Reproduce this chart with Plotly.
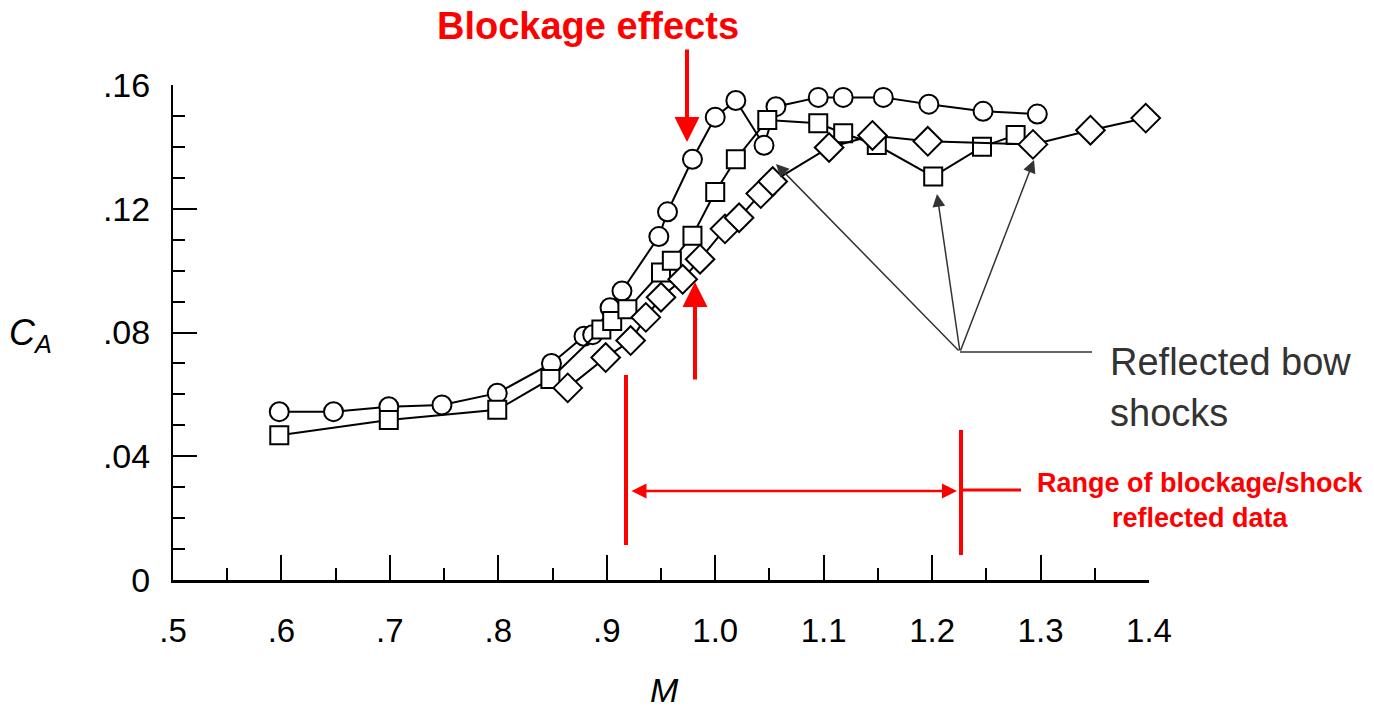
import plotly.graph_objects as go

# ---- data ----
circle_M = [0.598, 0.648, 0.699, 0.748, 0.799, 0.849, 0.879, 0.887, 0.903, 0.914,
            0.948, 0.956, 0.979, 1.000, 1.019, 1.045, 1.056, 1.095, 1.118, 1.155,
            1.197, 1.247, 1.297]
circle_CA = [0.0544, 0.0544, 0.0560, 0.0566, 0.0604, 0.0700, 0.0788, 0.0793, 0.0880, 0.0934,
             0.1110, 0.1190, 0.1360, 0.1496, 0.1550, 0.1405, 0.1530, 0.1560, 0.1560, 0.1560,
             0.1538, 0.1515, 0.1506]

square_M = [0.598, 0.699, 0.799, 0.848, 0.895, 0.905, 0.919, 0.950, 0.960, 0.979,
            1.000, 1.019, 1.048, 1.095, 1.118, 1.149, 1.201, 1.246, 1.277]
square_CA = [0.0468, 0.0517, 0.0550, 0.0650, 0.0810, 0.0837, 0.0875, 0.0994, 0.1032, 0.1113,
             0.1254, 0.1360, 0.1487, 0.1476, 0.1444, 0.1406, 0.1304, 0.1400, 0.1438]

diamond_M = [0.864, 0.899, 0.922, 0.936, 0.950, 0.970, 0.986, 1.009, 1.022, 1.042,
             1.053, 1.105, 1.145, 1.196, 1.293, 1.346, 1.397]
diamond_CA = [0.0621, 0.0719, 0.0774, 0.0849, 0.0914, 0.0972, 0.1037, 0.1135, 0.1171, 0.1249,
              0.1288, 0.1398, 0.1437, 0.1418, 0.1408, 0.1454, 0.1493]

x_tickvals = [0.5, 0.6, 0.7, 0.8, 0.9, 1.0, 1.1, 1.2, 1.3, 1.4]
x_ticktext = [".5", ".6", ".7", ".8", ".9", "1.0", "1.1", "1.2", "1.3", "1.4"]
y_tickvals = [0, 0.04, 0.08, 0.12, 0.16]
y_ticktext = ["0", ".04", ".08", ".12", ".16"]

# ---- layout geometry (page body has an 8px margin) ----
OFF = 8
WIDTH, HEIGHT = 1374 - OFF, 708 - OFF
L, R, T, B = 173, 1149, 85, 580          # target screen pixels of plot area
PW, PH = R - L, B - T


def px(x):
    return (x - L) / PW


def py(y):
    return (B - y) / PH


FONT = "Liberation Sans, Arial, Helvetica, sans-serif"
RED = "#ff0000"

fig = go.Figure()
common = dict(mode="lines+markers", line=dict(color="black", width=2), cliponaxis=False,
              showlegend=False)
fig.add_trace(go.Scatter(x=circle_M, y=circle_CA,
                         marker=dict(symbol="circle", size=19, color="white",
                                     line=dict(color="black", width=2)), **common))
fig.add_trace(go.Scatter(x=square_M, y=square_CA,
                         marker=dict(symbol="square", size=18, color="white",
                                     line=dict(color="black", width=2)), **common))
fig.add_trace(go.Scatter(x=diamond_M, y=diamond_CA,
                         marker=dict(symbol="diamond", size=22, color="white",
                                     line=dict(color="black", width=2)), **common))

fig.update_layout(
    width=WIDTH, height=HEIGHT,
    margin=dict(l=L - OFF, r=WIDTH - (R - OFF), t=T - OFF, b=HEIGHT - (B - OFF)),
    paper_bgcolor="white", plot_bgcolor="white",
    font=dict(family=FONT, color="black"),
    xaxis=dict(range=[0.5, 1.4], tickvals=x_tickvals, ticktext=x_ticktext,
               ticks="inside", ticklen=25, tickwidth=1.5, tickcolor="black",
               showline=True, linecolor="black", linewidth=3, showgrid=False,
               zeroline=False, tickfont=dict(size=33, family=FONT),
               ticklabelstandoff=19,
               minor=dict(dtick=0.05, ticks="inside", ticklen=12, tickwidth=1.5,
                          tickcolor="black", showgrid=False)),
    yaxis=dict(range=[0, 0.16], tickvals=y_tickvals, ticktext=y_ticktext,
               ticks="inside", ticklen=24, tickwidth=2, tickcolor="black",
               showline=True, linecolor="black", linewidth=2, showgrid=False,
               zeroline=False, tickfont=dict(size=34, family=FONT),
               ticklabelstandoff=14,
               minor=dict(dtick=0.01, ticks="inside", ticklen=12, tickwidth=2,
                          tickcolor="black", showgrid=False)),
)

shapes = []
# red range markers
shapes.append(dict(type="line", xref="paper", yref="paper", x0=px(626), x1=px(626),
                   y0=py(375), y1=py(545), line=dict(color=RED, width=4)))
shapes.append(dict(type="line", xref="paper", yref="paper", x0=px(961), x1=px(961),
                   y0=py(430), y1=py(555), line=dict(color=RED, width=4)))
shapes.append(dict(type="line", xref="paper", yref="paper", x0=px(961), x1=px(1021),
                   y0=py(490), y1=py(490), line=dict(color=RED, width=3)))
# black leader line
shapes.append(dict(type="line", xref="paper", yref="paper", x0=px(960), x1=px(1092),
                   y0=py(352), y1=py(352), line=dict(color="#333333", width=1.5)))
fig.update_layout(shapes=shapes)

ann = []


def arrow(tip, tail, color, width, size=1.0, head=2, side="end"):
    ann.append(dict(xref="paper", yref="paper", x=px(tip[0]), y=py(tip[1]),
                    axref="pixel", ayref="pixel", ax=tail[0] - tip[0], ay=tail[1] - tip[1],
                    text="", showarrow=True, arrowhead=head, arrowside=side,
                    arrowwidth=width, arrowsize=size, arrowcolor=color, standoff=0,
                    startstandoff=0))


# red arrows
arrow((687, 142), (687, 48), RED, 4, 1.25)
arrow((695, 282), (695, 381), RED, 4, 1.25)
arrow((957, 491), (630, 491), RED, 2.5, 1.2, head=2, side="end+start")
# black arrows to reflected shocks
arrow((776, 164), (960, 352), "#333333", 1.5, 1.7)
arrow((937, 194), (960, 352), "#333333", 1.5, 1.7)
arrow((1034, 160), (960, 352), "#333333", 1.5, 1.7)

# texts
ann.append(dict(xref="paper", yref="paper", x=px(588), y=py(26), text="<b>Blockage effects</b>",
                showarrow=False, xanchor="center", yanchor="middle", borderpad=0,
                font=dict(size=38, color=RED, family=FONT)))
ann.append(dict(xref="paper", yref="paper", x=px(1108), y=py(362), text="Reflected bow",
                showarrow=False, xanchor="left", yanchor="middle",
                font=dict(size=38, color="#333333", family=FONT)))
ann.append(dict(xref="paper", yref="paper", x=px(1108), y=py(413), text="shocks",
                showarrow=False, xanchor="left", yanchor="middle",
                font=dict(size=38, color="#333333", family=FONT)))
ann.append(dict(xref="paper", yref="paper", x=px(1200), y=py(500),
                text="<b>Range of blockage/shock<br>reflected data</b>",
                showarrow=False, xanchor="center", yanchor="middle", align="center",
                font=dict(size=27, color=RED, family=FONT)))
ann.append(dict(xref="paper", yref="paper", x=px(664), y=py(690), text="<i>M</i>",
                showarrow=False, xanchor="center", yanchor="middle",
                font=dict(size=34, color="black", family=FONT)))
ann.append(dict(xref="paper", yref="paper", x=px(30), y=py(335),
                text="<i>C</i><sub><i>A</i></sub>",
                showarrow=False, xanchor="center", yanchor="middle",
                font=dict(size=36, color="black", family=FONT)))
fig.update_layout(annotations=ann)

fig.write_html("out.html")
